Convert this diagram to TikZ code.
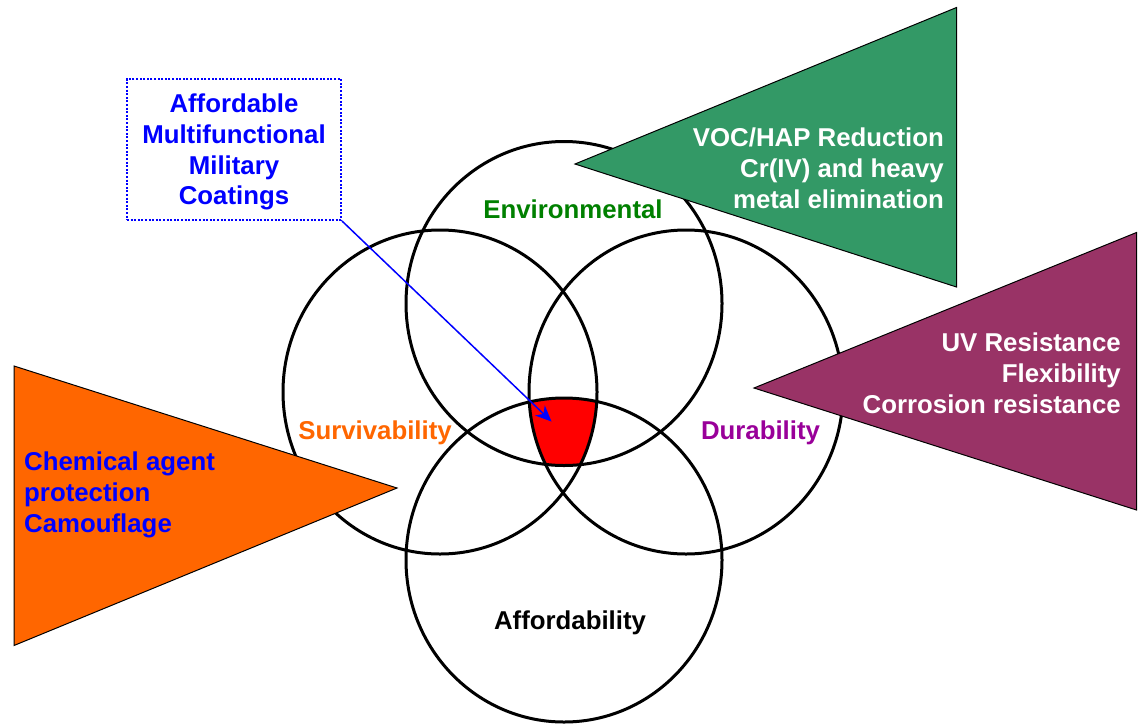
\documentclass[tikz,border=0pt]{standalone}
\usepackage{xcolor}
\usepackage{fontspec}
\setmainfont{Liberation Sans}
\usepackage{tikz}
\usetikzlibrary{arrows.meta, positioning}
\definecolor{envgreen}{RGB}{0,128,0}
\definecolor{survorange}{RGB}{255,102,0}
\definecolor{durpurple}{RGB}{153,0,153}
\definecolor{trigreen}{RGB}{51,153,102}
\definecolor{triplum}{RGB}{153,51,102}
\definecolor{goalblue}{RGB}{0,0,255}
\definecolor{coatred}{RGB}{255,0,0}
\newcommand{\vennfont}{\fontsize{25.8}{31}\selectfont\bfseries}
\tikzset{
  ring/.style={draw=black, line width=3pt},
  wedge/.style={draw=black, line width=1pt, line join=miter},
  ringlabel/.style={font=\vennfont, inner sep=0pt},
  wedgetext/.style={font=\vennfont, inner sep=0pt, color=white},
  goalbox/.style={draw=goalblue, line width=2pt, dash pattern=on 2pt off 1.6pt,
    minimum width=214pt, minimum height=141pt, align=center,
    font=\fontsize{25.8}{30.7}\selectfont\bfseries, text=goalblue,
    inner sep=0pt, text depth=0pt},
  pointer/.style={-{Stealth[length=16pt, width=14pt, inset=5pt]}, line width=1.5pt, color=goalblue}
}

\begin{document}
\begin{tikzpicture}[x=1pt, y=-1pt]
  \useasboundingbox (0,0) rectangle (1139,726);

  % Define the four rings
  \def\envring{(564,303.5) ellipse (158 and 162)}
  \def\survring{(440,392) ellipse (157 and 162)}
  \def\durring{(686,392) ellipse (157 and 162)}
  \def\affring{(564,560) ellipse (158 and 162)}

  % Common core of all four
  \begin{scope}
    \clip \envring;
    \clip \survring;
    \clip \durring;
    \fill[coatred] \affring;
  \end{scope}

  % Draw outlines of rings
  \draw[ring] \envring;
  \draw[ring] \survring;
  \draw[ring] \durring;
  \draw[ring] \affring;

  % Ring labels
  \node[ringlabel, text=envgreen] (env) at (573,209.7) {Environmental};
  \node[ringlabel, text=survorange] (surv) at (375,432.4) {Survivability};
  \node[ringlabel, text=durpurple] (dur) at (760.5,432.7) {Durability};
  \node[ringlabel, text=black] (aff) at (570,622.7) {Affordability};

  % Pointing wedges
  \coordinate (gtip) at (575,164);
  \coordinate (ptip) at (754,388);
  \coordinate (otip) at (397,488);
  \fill[trigreen] (gtip) -- (956.5,7.5) -- (956.5,287) -- cycle;
  \draw[wedge] (gtip) -- (956.5,7.5) -- (956.5,287) -- cycle;
  \fill[triplum] (ptip) -- (1136.5,232.5) -- (1136.5,510) -- cycle;
  \draw[wedge] (ptip) -- (1136.5,232.5) -- (1136.5,510) -- cycle;
  \fill[survorange] (otip) -- (14,366) -- (14,645.5) -- cycle;
  \draw[wedge] (otip) -- (14,366) -- (14,645.5) -- cycle;

  % Wedge texts
  \node[wedgetext, anchor=east, align=right] (envtext) at (944,168)
    {VOC/HAP Reduction\\Cr(IV) and heavy\\metal elimination};
  \node[wedgetext, anchor=east, align=right] (durtext) at (1121,373)
    {UV Resistance\\Flexibility\\Corrosion resistance};
  \node[wedgetext, anchor=west, align=left, text=goalblue] (survtext) at (24,494.5)
    {Chemical agent\\protection\\Camouflage};

  % Goal box and pointer to the core
  \node[goalbox] (goal) at (234,149.5)
    {Affordable\\Multifunctional\\Military\\Coatings};
  \coordinate (core) at (551.5,421.5);
  \draw[pointer] (goal.south east) -- (core);
\end{tikzpicture}
\end{document}
